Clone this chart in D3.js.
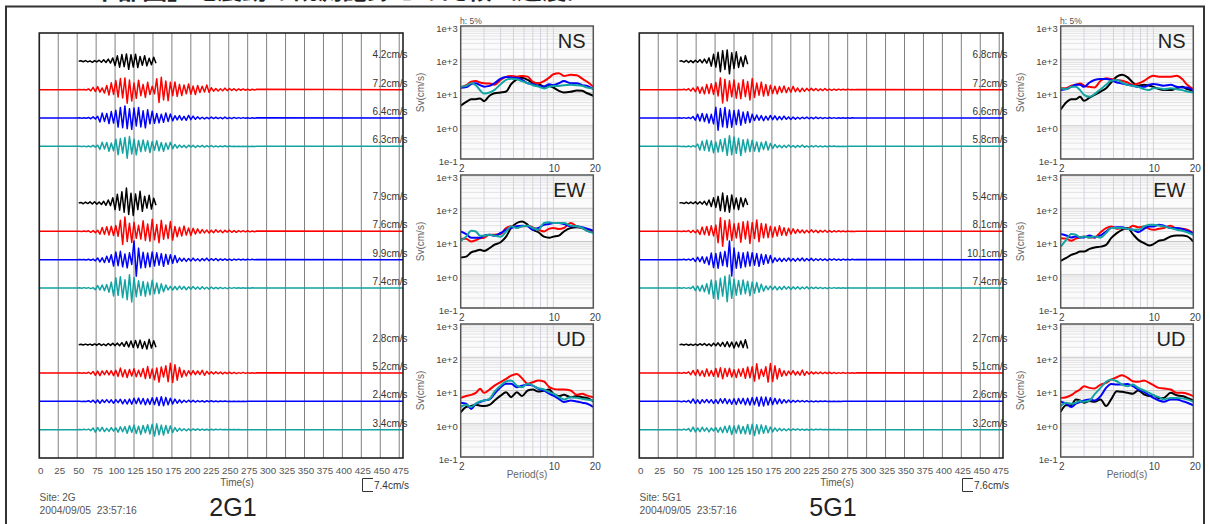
<!DOCTYPE html>
<html><head><meta charset="utf-8">
<script src="https://cdn.jsdelivr.net/npm/d3@7"></script>
<style>
body{margin:0;background:#fff;}
svg{display:block;font-family:"Liberation Sans",Arial,sans-serif;}
</style>
</head><body><svg id="c" width="1210" height="524"></svg>
<script>
// ---------------- DATA ----------------
const titleText = "5.3 「中部圏」地震動の観測記録との比較（速度）";
const timeTicks = [0,25,50,75,100,125,150,175,200,225,250,275,300,325,350,375,400,425,450,475];
const recordLength = 480;          // s
const synStart = 50;               // s, first sample of the coloured traces
const sampleStep = 3;              // s
const components = ["NS","EW","UD"];
const siteNames = ["2G1","5G1"];
const siteCodes = ["2G","5G1"];
const recDate = "2004/09/05  23:57:16";
const scaleBars = [7.4, 7.6];      // cm/s
const obsStarts = [52, 53];        // s, first sample of the black (observed) traces
const peaks2G = [[4.2,7.2,6.4,6.3],[7.9,7.6,9.9,7.4],[2.8,5.2,2.4,3.4]];
const peaks5G = [[6.8,7.2,6.6,5.8],[5.4,8.1,10.1,7.4],[2.7,5.1,2.6,3.2]];
const periods = [2,2.2,2.4,2.6,2.8,3,3.3,3.6,4,4.4,4.8,5.3,5.8,6.4,7,7.7,8.5,9.3,10,11,12,13.5,15,16.5,18,20];
const svTicks = [0.1,1,10,100,1000];
const svTickLabels = ["1e-1","1e+0","1e+1","1e+2","1e+3"];
const periodTicks = [2,10,20];

// waveforms (cm/s)
const w2G_NS_k = [0,0.3,-0.2,0.4,-0.3,0.2,-0.5,0.4,-0.3,0.6,-0.5,0.8,-0.6,1.2,-0.9,1.8,-2.2,2.9,-3.1,3.6,-2.8,3.9,-4.2,3.5,-3.0,3.8,-3.3,2.6,-2.1,3.0,-2.4,1.6,-1.8,2.2,-1.0];
const w2G_NS_r = [0,0.1,-0.1,0.1,-0.2, 0.4,-0.6,1.2,-1.0,1.6,-1.3,0.9, -1.8,2.2,-2.8,3.6,-2.5,4.8,-3.9,5.9,-4.4, 6.2,-7.2,5.1,-6.0, 3.5,-4.6,5.0,-3.2,2.8,-4.1,3.9,-2.6,1.8,-2.2, 5.8,-6.8,6.5,-5.4,4.6,-5.8,3.9,-3.2,4.1,-3.6, 2.8,-3.1,2.5,-2.2,3.0,-2.4,1.9,-2.6,2.2,-1.5,1.8,-1.2,2.5,-1.4,1.0,-0.8, 0.6,-0.7,0.5,-0.6,0.8,-0.5,0.6,-0.4,0.5,-0.5,0.4,-0.3,0.4,-0.3,0.3,-0.3,0.2,-0.2,0.2];
const w2G_NS_b = [0,0.1,-0.1,0.1,-0.1, 0.3,-0.4,0.6,-0.5,0.9, -2.1,2.6,-1.8,2.4,-2.9,3.4,-2.7,4.1, -4.8,5.6,-5.1,6.4,-5.7,4.9,-6.0,5.3,-4.2,5.5,-4.7,3.8,-5.2,4.3,-3.1,3.6,-2.8, 2.4,-2.6,2.0,-2.3,2.7,-1.8,2.1,-1.5,1.2, -1.0,1.3,-1.1,0.9,-1.2,1.4,-0.9,1.0,-0.7,0.6,-0.5, 0.4,-0.5,0.3,-0.4,0.5,-0.3,0.4,-0.3,0.3,-0.4,0.5,-0.3,0.2,-0.3,0.3,-0.2,0.2,-0.2,0.2,-0.1,0.1,-0.2,0.1,-0.1,0.1];
const w2G_NS_c = [0,0.1,-0.1,0.1,-0.2,0.2, -0.3,0.5,-0.4,0.6, -1.6,2.2,-1.4,2.0,-2.6,1.8,-2.3, 3.8,-4.4,4.1,-3.6,4.7,-6.3,5.2,-4.0,3.7,-4.5,3.1, -2.8,3.4,-2.5,2.9,-3.3,2.6,-2.1,3.0,-2.4,2.0,-2.6,1.8,-1.5,2.1,-1.3,1.0,-0.9, 0.7,-0.6,0.5,-0.7,0.6,-0.4,0.5,-0.6,0.4,-0.3,0.5,-0.4,0.3,-0.3,0.4,-0.3,0.2,-0.3,0.2,-0.2,0.3,-0.2,0.2,-0.1, 0.1,-0.1,0.1,-0.1,0.1,-0.1,0.1,-0.1,0.1,-0.1,0];
const w2G_EW_k = [0,0.3,-0.4,0.5,-0.3,0.6,-0.5,0.7,-0.6,0.5,-0.8,0.9,-1.2,1.6,-1.4,2.8,-3.5,4.6,-3.8,5.9,-4.9,7.9,-6.1,5.2,-6.6,4.8,-3.5,6.2,-4.4,3.6,-2.7,4.1,-3.2,2.5,-1.2];
const w2G_EW_r = [0,0.1,-0.1,0.2,-0.1, 0.3,-0.5,0.4,-0.7,0.6, -1.5,2.0,-1.6,2.4,-1.9,2.7,-2.2,3.1,-2.6, 5.8,-6.9,7.6,-5.4,4.3,-5.9,4.8,-3.7,3.2, -4.1,5.6,-4.8,3.9,-5.2,6.4,-4.5,3.6,-6.0,5.8,-4.2,3.3,-3.8,5.2,-4.6, 2.6,-2.9,2.2,-2.5,2.8,-2.0,1.8,-2.2,1.6,-1.4,1.3,-1.0,0.9, -0.8,0.7,-0.9,0.6,-0.7,0.8,-0.5,0.6,-0.7,0.5,-0.4,0.6,-0.5,0.4,-0.5,0.4,-0.3,0.4,-0.3,0.3,-0.3,0.2,-0.2,0.2];
const w2G_EW_b = [0,0.1,-0.1,0.1,-0.2,0.2,-0.3,0.3, -0.6,0.9,-1.2,1.0,-1.5,1.8,-1.4, 2.6,-3.4,4.1,-3.2,4.4,-3.8,3.0,-4.3,3.6,-2.5, 9.9,-8.7,6.1, -4.4,3.9,-4.2,3.5,-3.8,4.1,-3.3,3.6,-2.9,3.2,-3.5,2.8,-2.4,2.6,-1.9,2.2,-1.5, 0.9,-0.8,0.7,-0.9,0.6,-0.7,0.8,-0.6,0.5,-0.7,0.6,-0.5,0.8,-0.6,0.5,-0.4,0.6,-0.5,0.4,-0.3,0.4,-0.3,0.3,-0.4,0.3,-0.2,0.3,-0.2,0.2,-0.2,0.2,-0.1,0.2,-0.1,0.1];
const w2G_EW_c = [0,0.1,-0.1,0.2,-0.1,0.2,-0.3,0.2, -0.9,1.3,-1.0,1.6,-1.4,1.8,-2.2, 3.1,-4.2,5.4,-3.9,6.0,-5.1,4.3,-6.2,7.0,-7.4,5.5,-4.6,3.8, -4.0,3.4,-4.3,3.0,-3.6,4.1,-3.1,2.7,-2.9,2.2,-2.0,1.6, -1.0,0.9,-1.1,0.8,-0.9,1.0,-0.7,0.8,-0.9,0.6,-0.7,0.8,-0.6,0.5,-0.7,0.6,-0.5,0.4,-0.6,0.5,-0.4,0.3,-0.4,0.3,-0.3,0.2,-0.3,0.2,-0.2,0.2,-0.1,0.1, -0.1,0.1,-0.1,0.1,-0.1,0.1,0,0];
const w2G_UD_k = [0,0.2,-0.2,0.3,-0.2,0.3,-0.3,0.4,-0.3,0.5,-0.4,0.3,-0.5,0.6,-0.4,0.7,-0.5,0.8,-0.6,1.1,-0.9,1.6,-1.2,1.9,-1.5,2.2,-1.7,2.4,-2.0,1.6,-2.3,2.8,-1.8,2.1,-1.4];
const w2G_UD_r = [0,0.1,-0.1,0.1,-0.2, 0.4,-0.5,0.8,-1.2,1.0,-1.4,1.1,-0.9,1.3,-1.0,1.2,-1.4,1.5, -1.8,2.6,-2.0,1.7,-2.4,1.9,-1.6,2.2,-2.0,1.5,-1.8,2.4,-2.9,3.4,-2.8,2.1,-3.6, 2.7,-4.8,3.2, -2.1,3.8,-4.6,5.2,-5.0,4.4,-3.8,2.9,-2.2, 1.4,-1.6,1.2,-1.0,1.3,-0.9,1.1,-0.8,1.4,-1.2,0.9,-0.6,0.7,-0.5, 0.6,-0.4,0.5,-0.5,0.4,-0.3,0.4,-0.3,0.3,-0.3,0.2,-0.2,0.3,-0.2,0.2,-0.1,0.1,-0.1,0.1];
const w2G_UD_b = [0,0.1,-0.1,0.1,-0.1, 0.3,-0.4,0.6,-0.8,0.7,-1.0,0.8,-0.6,0.9,-0.7,0.8,-1.0, 0.9,-0.7,1.1,-1.3,0.9,-1.4,1.2,-1.5,1.6,-1.2,1.7,-1.4,1.5,-1.8,1.3,-1.6,1.9, -1.7,2.0,-2.2,2.4,-2.3,2.1,-1.8,1.6,-1.4,1.2,-1.0, 0.8,-0.7,0.6,-0.5,0.6,-0.4,0.5,-0.4,0.4,-0.3,0.3,-0.4,0.3,-0.2,0.3,-0.2,0.2,-0.2,0.2,-0.1,0.2,-0.1,0.1,-0.1,0.1,-0.1,0.1,-0.1,0.1,-0.1,0,0,0,0,0];
const w2G_UD_c = [0,0.1,-0.1,0.2,-0.1, 0.3,-0.5,0.9,-1.3,1.1,-0.8,1.2,-1.0,0.7,-0.9,1.1,-0.8, 1.0,-1.3,1.5,-1.1,1.6,-1.9,2.1,-1.4,2.4,-2.0,1.8,-2.5,2.2,-1.6,2.6,-2.3,2.9, -3.4,3.1,-2.7,2.4,-2.8,2.2,-1.9,2.0,-1.5,1.1,-0.9, 0.7,-0.6,0.5,-0.6,0.4,-0.5,0.4,-0.3,0.4,-0.3,0.3,-0.3,0.2,-0.3,0.2,-0.2,0.2,-0.1,0.2,-0.1,0.1,-0.1,0.1,-0.1,0.1,-0.1,0.1,-0.1,0,0,0,0,0,0,0];

const w5G_NS_k = [0,0.3,-0.4,0.5,-0.6,0.4,-0.7,0.6,-0.5,0.9,-0.8,1.2,-1.0,1.9,-2.6,3.8,-3.1,4.9,-5.6,5.8,-4.4,6.2,-6.8,4.6,-3.9,5.2,-3.3,2.4,-2.8,3.1,-1.6];
const w5G_NS_r = [0,0.1,-0.1,0.2,-0.2, 0.5,-0.7,0.9,-1.1, 1.6,-2.0,1.4,-2.3,2.8,-2.1,3.2,-2.6,3.9,-3.4, 6.4,-7.2,5.6,-6.1,4.8, -3.9,5.2,-4.6,3.5,-4.9,5.4,-3.8,4.4,-5.6,6.0,-4.2,3.6,-3.0,4.1,-3.5,2.8,-3.2,2.4,-2.1, 1.9,-2.3,1.7,-1.5,2.0,-1.6,1.2,-1.4,1.8,-1.1,0.9,-1.2,0.8,-0.9,0.7,-0.6, 0.7,-0.5,0.6,-0.6,0.4,-0.5,0.6,-0.4,0.3,-0.4,0.3,-0.3,0.3,-0.2,0.2,-0.2,0.2,-0.1,0.1,-0.1,0.1];
const w5G_NS_b = [0,0.1,-0.1,0.2,-0.2,0.3,-0.3, 0.8,-1.2,2.0,-1.6,2.4,-1.9,2.2,-2.7,2.0,-3.2, 5.8,-6.6,5.1,-4.8,5.7,-5.2,4.4,-5.0,4.1,-3.6,4.4,-3.9,3.2,-2.8,3.4,-2.5,2.1, -1.4,1.6,-1.2,1.3,-1.5,1.0,-1.1,1.4,-0.9,1.2,-1.0,0.8,-0.9,1.0,-0.7,0.6,-0.8,0.5,-0.6,0.4, -0.5,0.4,-0.3,0.5,-0.4,0.3,-0.4,0.5,-0.3,0.3,-0.3,0.2,-0.2,0.3,-0.2,0.2,-0.2,0.1,-0.1,0.1,-0.1,0.1,-0.1,0.1,0,0];
const w5G_NS_c = [0,0.1,-0.1,0.1,-0.2,0.2,-0.3,0.4,-0.3, 1.2,-2.0,2.8,-2.2,3.4,-2.6,3.0,-3.5,2.4,-3.1,3.6,-2.8,4.2,-4.9, 5.8,-4.6,5.1,-3.8,4.4,-5.0,3.6,-3.1,3.8,-2.9,3.3,-2.6,2.4,-3.0,2.2,-1.8,2.6,-2.0,1.6,-1.2,1.0, -0.7,0.6,-0.8,0.5,-0.6,0.7,-0.5,0.4,-0.6,0.5,-0.4,0.7,-0.5,0.3,-0.4,0.3,-0.3,0.4,-0.3,0.2,-0.3,0.2,-0.2,0.2,-0.1,0.2,-0.1,0.1,-0.1,0.1,-0.1,0.1,0,0,0,0];
const w5G_EW_k = [0,0.2,-0.3,0.4,-0.3,0.5,-0.4,0.6,-0.5,0.7,-0.6,0.9,-1.1,1.6,-1.9,2.8,-2.4,3.6,-4.1,5.4,-4.6,3.9,-5.0,4.4,-3.2,2.7,-3.6,2.9,-2.0,2.4,-1.1];
const w5G_EW_r = [0,0.1,-0.1,0.2,-0.1, 0.4,-0.6,0.5,-0.8,0.7, -1.7,2.3,-1.8,2.6,-2.1,3.0,-2.5,3.4, -6.2,7.4,-8.1,5.9,-4.7,6.3,-5.0,4.1,-3.6, 4.4,-5.9,5.2,-4.1,5.5,-6.6,4.8,-3.9,6.2,-5.6,4.3,-3.5,4.0,-3.4, 2.8,-3.1,2.4,-2.6,3.0,-2.1,1.9,-2.3,1.7,-1.5,1.4,-1.1,1.0,-0.8, 0.7,-0.9,0.6,-0.7,0.8,-0.5,0.6,-0.7,0.5,-0.4,0.6,-0.5,0.4,-0.4,0.3,-0.3,0.3,-0.2,0.2,-0.2,0.2,-0.1,0.1,-0.1,0.1];
const w5G_EW_b = [0,0.1,-0.1,0.2,-0.2,0.3,-0.3, 0.7,-1.0,1.3,-1.1,1.6,-1.9,1.5, -2.8,3.6,-4.3,3.4,-4.6,4.0,-3.2,4.5,-3.8, 10.1,-8.9,6.3, -4.6,4.0,-4.4,3.7,-3.9,4.2,-3.4,3.8,-3.0,3.3,-3.6,2.9,-2.5,2.7,-2.0,2.3,-1.6, 1.0,-0.9,0.8,-1.0,0.7,-0.8,0.9,-0.7,0.6,-0.8,0.7,-0.6,0.9,-0.7,0.6,-0.5,0.7,-0.6,0.5,-0.4,0.5,-0.4,0.4,-0.5,0.4,-0.3,0.4,-0.3,0.3,-0.3,0.3,-0.2,0.2,-0.2,0.2,-0.1,0.1];
const w5G_EW_c = [0,0.1,-0.1,0.2,-0.2,0.2,-0.3, 0.9,-1.4,1.1,-1.7,1.5,-2.0,2.3, -3.2,4.4,-5.6,4.0,-6.1,5.3,-4.4,6.4,-7.4,7.1,-5.6,4.7,-3.9, 4.1,-3.5,4.4,-3.1,3.7,-4.2,3.2,-2.8,3.0,-2.3,2.1,-1.7, 1.1,-0.9,1.0,-0.8,0.9,-1.0,0.7,-0.8,0.9,-0.6,0.7,-0.8,0.6,-0.5,0.7,-0.6,0.5,-0.4,0.6,-0.5,0.4,-0.3,0.4,-0.3,0.3,-0.3,0.2,-0.3,0.2,-0.2,0.2,-0.1,0.1,-0.1,0.1,-0.1,0.1,0,0,0,0];
const w5G_UD_k = [0,0.2,-0.2,0.3,-0.3,0.2,-0.4,0.3,-0.4,0.5,-0.3,0.6,-0.5,0.4,-0.7,0.8,-0.6,1.0,-0.8,1.3,-1.1,1.6,-1.2,1.4,-1.8,1.5,-1.3,2.0,-1.6,2.7,-2.1];
const w5G_UD_r = [0,0.1,-0.2,0.3,-0.2, 0.6,-0.9,1.4,-1.2,1.8,-1.5,1.2,-1.9,2.2,-1.6,1.4,-1.8,2.5, -2.2,2.8,-3.1,2.4,-1.9,2.6,-2.2,1.8,-2.5,2.1,-1.7,2.4,-2.9,3.3,-2.6, 3.4,-4.4,5.0,-3.2, 2.0,-1.8,3.4,-4.9,5.1,-4.6,3.9,-3.2,2.5,-1.8, 1.2,-1.4,1.0,-0.9,1.3,-1.1,0.8,-1.2,1.6,-1.3,0.8,-0.7,0.6,-0.5, 0.5,-0.4,0.5,-0.4,0.4,-0.3,0.4,-0.3,0.3,-0.3,0.2,-0.2,0.3,-0.2,0.2,-0.1,0.1,-0.1,0.1];
const w5G_UD_b = [0,0.1,-0.2,0.2,-0.3, 0.5,-0.9,1.3,-1.1,0.8,-1.2,0.9,-0.7,1.0,-0.8,0.9,-1.1, 0.9,-1.2,1.4,-1.0,1.5,-1.3,1.1,-1.6,1.4,-1.7,1.5,-1.3,1.6,-1.9,1.7,-2.0,2.1, -1.8,2.2,-2.6,2.4,-2.5,2.3,-2.0,1.9,-1.7,1.6,-1.4,1.3,-1.1,0.9,-0.8,0.7,-0.6, 0.5,-0.4,0.5,-0.3,0.4,-0.3,0.3,-0.3,0.2,-0.3,0.2,-0.2,0.2,-0.1,0.2,-0.1,0.1,-0.1,0.1,-0.1,0.1,-0.1,0.1,0,0,0,0,0,0];
const w5G_UD_c = [0,0.1,-0.2,0.3,-0.2, 0.6,-1.0,1.4,-1.2,0.9,-1.1,1.3,-0.8,1.0,-1.2,0.9,-0.7, 1.1,-1.4,1.2,-1.6,1.9,-1.5,2.2,-2.6,2.0,-1.8,2.4,-2.1,1.7,-2.3,2.8,-2.5,2.9, -3.2,2.7,-2.3,2.6,-2.0,2.2,-1.7,1.5,-1.2,1.0,-0.8, 0.7,-0.6,0.5,-0.6,0.4,-0.5,0.4,-0.3,0.4,-0.3,0.3,-0.3,0.2,-0.3,0.2,-0.2,0.2,-0.1,0.2,-0.1,0.1,-0.1,0.1,-0.1,0.1,-0.1,0.1,0,0,0,0,0,0,0,0];

// velocity response spectra Sv (cm/s), h = 5%
const sv2G_NS_k = [4,5.2,6.3,6.3,6.6,5.5,8,9.5,10,10.7,17.8,25,28,24,20,18.6,15,15.8,14,11.2,10,10.5,11.5,11.2,9.5,8];
const sv2G_NS_r = [14.1,16.6,21,22,20,19,18.6,17,24,29.5,31.6,30,31.6,30,21,19,22,28,35.5,38,31.6,34,33,26,21,15];
const sv2G_NS_b = [13.8,14.5,17.8,19,16.6,15,15.8,19,26,29.5,28,28,24,19,17.8,15.8,15,17.8,16.6,19,22,19,19,16.6,15.8,12.6];
const sv2G_NS_c = [14.8,15.8,19,16.6,11.7,9.3,10,12,17.8,24,26,25,22,19,16.6,15,13.2,15,15.8,15.8,16.6,17,16.6,15.8,14,13.2];
const sv2G_EW_k = [3.3,3.5,4.7,5.2,5.6,5.2,6.3,8,9.5,14,25.5,36,40,32,22.6,19,14,13,14,15,20,25.5,26.7,25.5,21,19];
const sv2G_EW_r = [12,12,10,11,12.6,13,16,16,16.7,25.5,28.6,26.7,28.6,30,26.7,22.6,20,24.4,25.5,23.7,25.5,36,28.6,25.5,22.6,19];
const sv2G_EW_b = [20,16.7,13,13,13,15,16,15,18,22.6,25.5,28.6,30,28.6,22.6,25.5,32,33.6,36,36,33.6,28.6,28.6,26.7,24.4,21];
const sv2G_EW_c = [10.5,14,21,20,15,15,16,15,14,20,28.6,25.5,28.6,30,25.5,22.6,36,38,36,36,36,30,28.6,25.5,21,18];
const sv2G_UD_k = [2.2,3.2,3.4,3.7,3.5,3.4,3.7,5,7,8.9,6.3,8.9,6.8,10,10.7,9.3,10,10.7,8,6.8,7.4,6.3,6.8,6.3,6,4.7];
const sv2G_UD_r = [6,6.8,7.4,8.5,11.2,8.5,10.7,14,17.8,22.4,28,31.6,23.4,16,17.8,20,18.6,12.6,11.2,10.7,10.7,10,7.4,8,7,6.3];
const sv2G_UD_b = [4.3,4,2.8,4,4.5,5,5.4,8,12.6,16,16,12.6,14,14.8,14,11.2,10,8,7,5.6,4.5,5,4.7,4.3,4,3.2];
const sv2G_UD_c = [3.2,3.7,3.2,4,4.7,5,5.6,9.3,14,18.6,20,14,12.6,16,14,11.7,10.7,8.9,8,6.3,5.4,6.3,6,5.6,5.4,5];
const sv5G_NS_k = [3.1,5,6.3,6.3,7.4,5.6,7,8.5,10.7,13.5,20,30,34,28.5,20,16,17,16,14.8,12.6,11.8,11.8,13.5,14.8,12.6,11.2];
const sv5G_NS_r = [13.5,13.5,16,17,18.7,16,14.8,14.2,22.5,27,25.3,23.7,22.5,20,17,18.7,22.5,28.5,32,30,30,30,32,25.3,17,12.6];
const sv5G_NS_b = [11.8,12.6,14.8,17,17,14.8,20,23.7,25.3,25.3,23.7,20,18.7,17,16,14.8,14.8,17,17.9,17,16,17,14.8,14.2,14.2,11.2];
const sv5G_NS_c = [13.5,12.6,14.8,14.8,11.8,8.5,7.4,8.9,12.6,17,22.5,23.7,20,17,16,14.8,12.6,11.8,13.5,13.5,12.6,13.5,12.6,11.8,10.7,10];
const sv5G_EW_k = [2.6,3.2,3.95,4.4,5,5,6,6.6,7,7.9,12.6,17.9,22.5,25.3,16.7,11.2,8.9,7.6,8.3,10.5,11.2,14.2,15.2,15.2,14.2,10];
const sv5G_EW_r = [12.6,12.2,10.5,12.2,13.2,14.2,13.2,13.2,19,25.3,28.5,24,25.3,24,30,26.6,28.5,24,22.5,24,25.3,30,24,24,22.5,17.9];
const sv5G_EW_b = [16.7,15.2,13.2,14.2,13.2,13.2,15.2,13.2,15.2,20,25.3,26.6,26.6,24,22.5,19,24,28.5,28.5,32,30,25.3,25.3,24,21,17.9];
const sv5G_EW_c = [7,11.2,16.7,15.9,13.2,14.2,13.2,14.2,13.2,17.9,25.3,25.3,25.3,24,22.5,22.5,28.5,32,32,30,28.5,25.3,22.5,21,19,15.9];
const sv5G_UD_k = [2.3,3.6,3.6,5.4,5,4.3,4.8,4.6,5.4,3.4,5.4,9.5,9.1,8.5,8,10,7.6,6.8,7.2,5.8,6,8.5,7.2,6.8,6,5];
const sv5G_UD_r = [6,6.3,7.2,9.1,10.7,13.5,12,11.5,15.1,17,21.4,25.1,28.8,24,19,18.2,20,17,14.5,12,11.5,10.7,8.5,8.5,8,6.8];
const sv5G_UD_b = [4.6,4,3.2,4,4.6,5,5.4,5,6.8,12,15.8,15.1,15.1,15.8,13.5,10.7,9.1,7.2,6,5,4.6,5.4,5.4,4.8,4.3,3.6];
const sv5G_UD_c = [3.4,4.3,4,4.3,4.8,4.6,5,7.6,12,18.2,21.4,19,15.1,13.5,15.1,12,10,8.5,7.2,6.3,5.4,6,6,5.8,5.4,4.6];

// ---------------- DRAWING ----------------
const colors = ["#000000","#ff0000","#0000ff","#13a3a3"];
const svg = d3.select("#c");

const stations = [
  {name:siteNames[0], site:siteCodes[0], bar:scaleBars[0], obsStart:obsStarts[0], peaks:peaks2G,
   waves:[[w2G_NS_k,w2G_NS_r,w2G_NS_b,w2G_NS_c],[w2G_EW_k,w2G_EW_r,w2G_EW_b,w2G_EW_c],[w2G_UD_k,w2G_UD_r,w2G_UD_b,w2G_UD_c]],
   spectra:[[sv2G_NS_k,sv2G_NS_r,sv2G_NS_b,sv2G_NS_c],[sv2G_EW_k,sv2G_EW_r,sv2G_EW_b,sv2G_EW_c],[sv2G_UD_k,sv2G_UD_r,sv2G_UD_b,sv2G_UD_c]]},
  {name:siteNames[1], site:siteCodes[1], bar:scaleBars[1], obsStart:obsStarts[1], peaks:peaks5G,
   waves:[[w5G_NS_k,w5G_NS_r,w5G_NS_b,w5G_NS_c],[w5G_EW_k,w5G_EW_r,w5G_EW_b,w5G_EW_c],[w5G_UD_k,w5G_UD_r,w5G_UD_b,w5G_UD_c]],
   spectra:[[sv5G_NS_k,sv5G_NS_r,sv5G_NS_b,sv5G_NS_c],[sv5G_EW_k,sv5G_EW_r,sv5G_EW_b,sv5G_EW_c],[sv5G_UD_k,sv5G_UD_r,sv5G_UD_b,sv5G_UD_c]]}
];

// title (cut at the top edge, as in the reference) and outer frame
svg.append("text").attr("x",24).attr("y",-1).attr("font-family","'Noto Sans CJK JP'")
  .attr("font-size",25).attr("font-weight","bold").attr("fill","#222").text(titleText);
svg.append("rect").attr("x",6).attr("y",6.5).attr("width",1198).attr("height",540)
  .attr("fill","none").attr("stroke","#333").attr("stroke-width",2);

const textGrey = "#555";

stations.forEach((st, si) => {
  const g = svg.append("g").attr("transform", `translate(${si*600},0)`);

  // ---------- waveform panel ----------
  const x = d3.scaleLinear().domain([0, recordLength]).range([39.3, 403]);
  const row = d3.scaleLinear().domain([0, 15]).range([33, 458]);
  const amp = d3.scaleLinear().domain([0, st.bar]).range([0, 14]);

  g.append("g").selectAll("line").data(timeTicks).join("line")
    .attr("x1", d => x(d)).attr("x2", d => x(d)).attr("y1", row(0)).attr("y2", row(15))
    .attr("stroke", "#808080").attr("stroke-width", 1);

  const wf = g.append("g");
  components.forEach((comp, ci) => {
    st.waves[ci].forEach((arr, j) => {
      const y0 = row(ci*5 + 1 + j);
      let pts;
      if (j === 0) pts = arr.map((v, i) => [st.obsStart + i*sampleStep, v]);
      else pts = [[0, 0]].concat(arr.map((v, i) => [synStart + i*sampleStep, v]), [[recordLength, 0]]);
      const line = d3.line().x(d => x(d[0])).y(d => y0 - amp(d[1]));
      wf.append("path").attr("d", line(pts)).attr("fill", "none")
        .attr("stroke", colors[j]).attr("stroke-width", 1.5).attr("stroke-linejoin", "round");
      g.append("text").attr("x", 407.5).attr("y", y0 - 3).attr("text-anchor", "end")
        .attr("font-size", 10).attr("fill", "#333").text(st.peaks[ci][j].toFixed(1) + "cm/s");
    });
  });

  g.append("rect").attr("x", x(0)).attr("y", row(0)).attr("width", x(recordLength) - x(0))
    .attr("height", row(15) - row(0)).attr("fill", "none").attr("stroke", "#222").attr("stroke-width", 1.6);

  g.append("g").selectAll("text").data(timeTicks).join("text")
    .attr("x", d => x(d) + 1.5).attr("y", 473.5).attr("text-anchor", "middle")
    .attr("font-size", 9.8).attr("fill", textGrey).text(d => d);
  g.append("text").attr("x", 237).attr("y", 485.5).attr("text-anchor", "middle")
    .attr("font-size", 10).attr("fill", textGrey).text("Time(s)");

  // scale bar
  g.append("path").attr("d", "M373,478.5 H362.5 V491.5 H373").attr("fill", "none")
    .attr("stroke", "#333").attr("stroke-width", 1);
  g.append("text").attr("x", 374).attr("y", 489).attr("font-size", 10).attr("fill", "#333")
    .text(st.bar.toFixed(1) + "cm/s");

  g.append("text").attr("x", 39.5).attr("y", 500.5).attr("font-size", 10).attr("fill", textGrey)
    .text("Site:  " + st.site);
  g.append("text").attr("x", 39.5).attr("y", 513.5).attr("font-size", 10.3).attr("fill", textGrey)
    .attr("xml:space", "preserve").style("white-space", "pre").text(recDate);
  g.append("text").attr("x", 233).attr("y", 516).attr("text-anchor", "middle")
    .attr("font-size", 25).attr("fill", "#222").text(st.name);

  // ---------- spectra panels ----------
  const px = d3.scaleLog().domain([2, 20]).range([460.7, 593.3]);
  const tops = [26, 175, 324];
  const ph = 133;
  const minorV = [3,4,5,6,7,8,9,10];
  const minorH = [];
  [0.1, 1, 10, 100].forEach(dec => { for (let k = 1; k <= 9; k++) minorH.push(dec*k); });

  components.forEach((comp, ci) => {
    const top = tops[ci];
    const py = d3.scaleLog().domain([0.1, 1000]).range([top + ph, top]);
    const pg = g.append("g");
    pg.append("rect").attr("x", px(2)).attr("y", top).attr("width", px(20) - px(2)).attr("height", ph)
      .attr("fill", "#fbfbfb");
    pg.selectAll(".h").data(minorH).join("line")
      .attr("x1", px(2)).attr("x2", px(20)).attr("y1", d => py(d)).attr("y2", d => py(d))
      .attr("stroke", d => (Math.abs(Math.log10(d) - Math.round(Math.log10(d))) < 1e-6) ? "#c8c8c8" : "#e3e3e3")
      .attr("stroke-width", 1);
    pg.selectAll(".v").data(minorV).join("line")
      .attr("x1", d => px(d)).attr("x2", d => px(d)).attr("y1", top).attr("y2", top + ph)
      .attr("stroke", "#d2d2e0").attr("stroke-width", 1);

    st.spectra[ci].forEach((vals, j) => {
      const line = d3.line().x((d, i) => px(periods[i])).y(d => py(d)).curve(d3.curveMonotoneX);
      pg.append("path").attr("d", line(vals)).attr("fill", "none")
        .attr("stroke", colors[j]).attr("stroke-width", 2).attr("stroke-linejoin", "round");
    });

    pg.append("rect").attr("x", px(2)).attr("y", top).attr("width", px(20) - px(2)).attr("height", ph)
      .attr("fill", "none").attr("stroke", "#555").attr("stroke-width", 1.5);

    pg.selectAll(".yl").data(svTicks).join("text")
      .attr("x", px(2) - 3).attr("y", d => py(d)).attr("dy", "0.62em").attr("text-anchor", "end")
      .attr("font-size", 9.5).attr("fill", "#444").text((d, i) => svTickLabels[i]);
    pg.selectAll(".xl").data(periodTicks).join("text")
      .attr("x", d => px(d) + (d === 20 ? 2 : 1)).attr("y", top + ph + 12.5).attr("text-anchor", "middle")
      .attr("font-size", 10).attr("fill", "#444").text(d => d);
    pg.append("text").attr("transform", `translate(424,${top + ph/2}) rotate(-90)`)
      .attr("text-anchor", "middle").attr("font-size", 10).attr("fill", "#666").text("Sv(cm/s)");
    pg.append("text").attr("x", 585.5).attr("y", top + 22).attr("text-anchor", "end")
      .attr("font-size", 20).attr("fill", "#222").text(comp);
  });
  g.append("text").attr("x", 460).attr("y", 24).attr("font-size", 8.5).attr("fill", "#555").text("h: 5%");
  g.append("text").attr("x", 527).attr("y", 477.5).attr("text-anchor", "middle")
    .attr("font-size", 10).attr("fill", "#666").text("Period(s)");
});
</script></body></html>
